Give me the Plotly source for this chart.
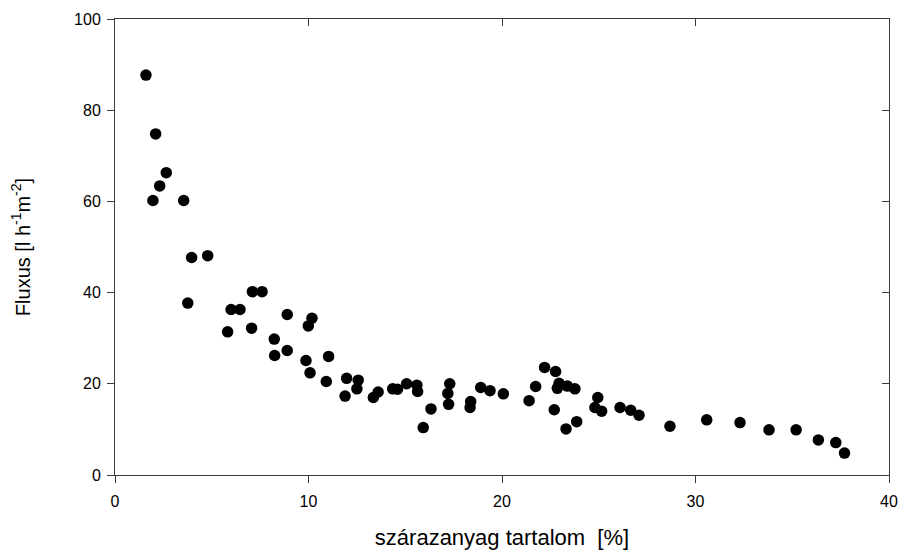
import plotly.graph_objects as go

# Data
szarazanyag = [1.6, 2.1, 2.65, 2.31, 1.96, 3.55, 3.96, 4.79, 3.76, 5.82,
               6.0, 6.46, 7.06, 7.1, 7.6, 8.9, 10.18, 9.99, 8.23, 8.25,
               8.9, 9.87, 10.08, 11.04, 10.92, 11.97, 12.57, 12.5, 11.89, 13.35,
               13.6, 14.35, 14.6, 15.07, 15.6, 15.64, 16.33, 15.93, 17.3, 17.2,
               17.24, 18.38, 18.35, 18.9, 19.38, 20.07, 21.4, 21.74, 22.2, 22.77,
               22.95, 22.86, 23.38, 23.77, 22.7, 23.86, 23.31, 24.95, 24.8, 25.15,
               26.1, 26.65, 27.08, 28.68, 30.58, 32.3, 33.8, 35.2, 36.35, 37.25,
               37.7]
fluxus = [87.7, 74.8, 66.3, 63.4, 60.2, 60.2, 47.7, 48.1, 37.7, 31.4,
          36.3, 36.3, 32.2, 40.2, 40.2, 35.2, 34.4, 32.7, 29.8, 26.2,
          27.3, 25.1, 22.4, 26.0, 20.5, 21.2, 20.8, 18.9, 17.3, 17.0,
          18.2, 18.9, 18.8, 20.0, 19.7, 18.3, 14.5, 10.4, 20.0, 17.9,
          15.5, 16.1, 14.8, 19.2, 18.5, 17.8, 16.3, 19.4, 23.6, 22.7,
          20.1, 19.0, 19.5, 18.9, 14.3, 11.7, 10.1, 17.0, 14.8, 14.0,
          14.8, 14.2, 13.1, 10.7, 12.1, 11.5, 9.9, 9.9, 7.7, 7.1,
          4.8]

x_ticks = [0, 10, 20, 30, 40]
y_ticks = [0, 20, 40, 60, 80, 100]

AX = "#3a3a3a"
FONT = "Liberation Sans, Arial, sans-serif"

fig = go.Figure()
fig.add_trace(go.Scatter(
    x=szarazanyag, y=fluxus, mode="markers",
    marker=dict(symbol="circle", size=11.5, color="black", line=dict(width=0)),
    showlegend=False, hoverinfo="x+y"))
# invisible trace to activate mirrored axes
fig.add_trace(go.Scatter(x=[0], y=[0], xaxis="x2", yaxis="y2", mode="markers",
                         marker=dict(opacity=0), showlegend=False, hoverinfo="skip"))

fig.update_layout(
    width=901, height=550,
    margin=dict(l=115, r=12, t=19, b=75),
    paper_bgcolor="white", plot_bgcolor="white",
    font=dict(family=FONT, size=16, color="black"),
    xaxis=dict(range=[0, 40], tickvals=x_ticks, ticks="outside", ticklen=7,
               tickcolor=AX, tickwidth=1, showline=True, linecolor=AX, linewidth=1,
               showgrid=False, zeroline=False, tickfont=dict(size=16), automargin=False,
               ticklabelstandoff=5,
               title=dict(text="szárazanyag tartalom  [%]", font=dict(size=22), standoff=24)),
    yaxis=dict(range=[0, 100], tickvals=y_ticks, ticks="outside", ticklen=7,
               tickcolor=AX, tickwidth=1, showline=True, linecolor=AX, linewidth=1,
               showgrid=False, zeroline=False, tickfont=dict(size=16), automargin=False,
               ticklabelstandoff=3,
               title=dict(text="Fluxus [l h<sup>-1</sup>m<sup>-2</sup>]", font=dict(size=20), standoff=38)),
    xaxis2=dict(range=[0, 40], tickvals=x_ticks, overlaying="x", side="top", anchor="y",
                ticks="inside", ticklen=7, tickcolor=AX, tickwidth=1, showline=True,
                linecolor=AX, linewidth=1, showgrid=False, zeroline=False, showticklabels=False),
    yaxis2=dict(range=[0, 100], tickvals=y_ticks, overlaying="y", side="right", anchor="x",
                ticks="inside", ticklen=7, tickcolor=AX, tickwidth=1, showline=True,
                linecolor=AX, linewidth=1, showgrid=False, zeroline=False, showticklabels=False),
)

fig.write_html("out.html")
